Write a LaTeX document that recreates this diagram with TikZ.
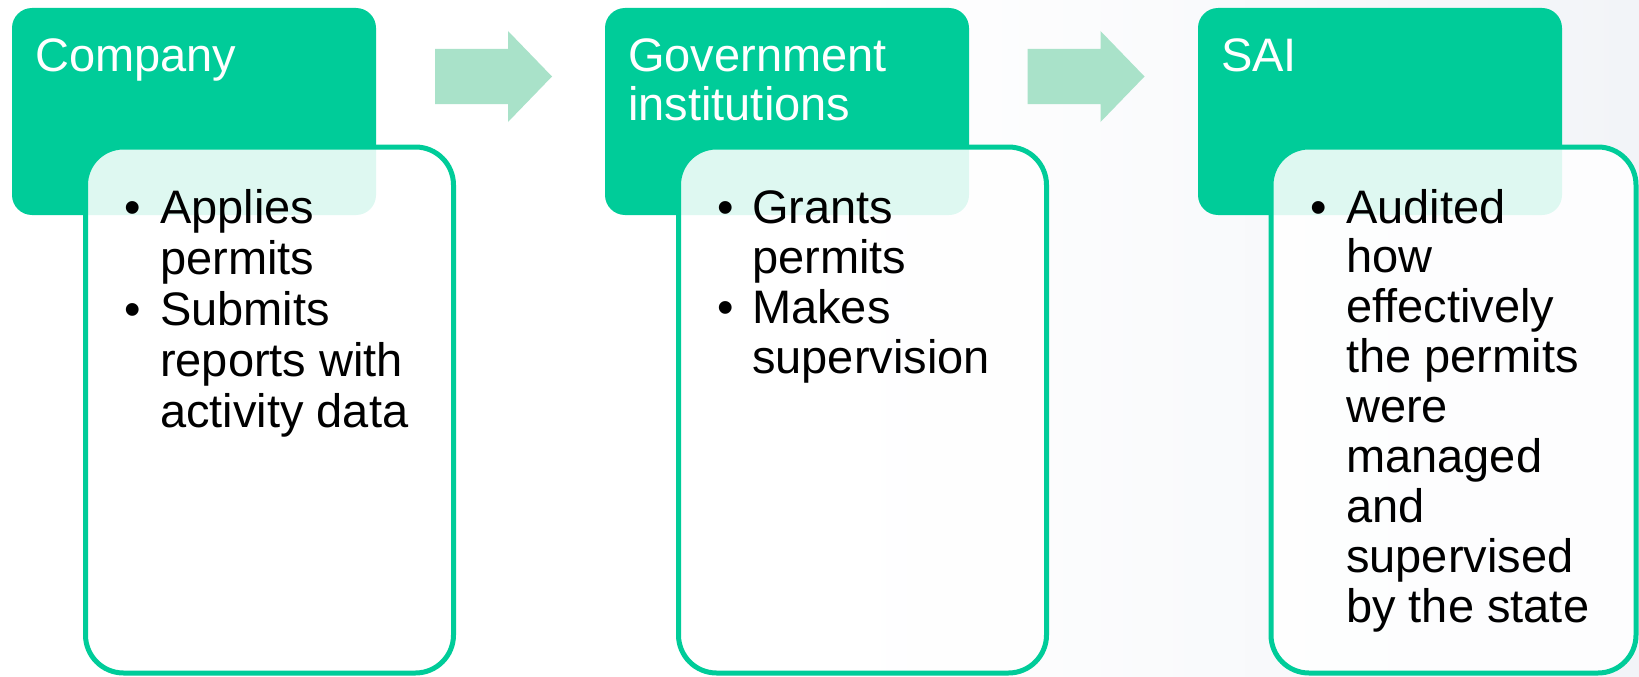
\documentclass[tikz,border=0pt]{standalone}
\usepackage{fontspec}
\setmainfont{Liberation Sans}
\definecolor{hgreen}{HTML}{00CC99}
\definecolor{arrowc}{HTML}{A9E2C9}
\definecolor{bgc}{HTML}{F2F4F8}
\newcommand{\linesat}[2]{\vtop{\baselineskip=#1\lineskiplimit=-\maxdimen\lineskip=0pt\halign{##\hfil\cr#2\crcr}}}
\tikzset{
  headbox/.style={fill=hgreen, rounded corners=20pt, inner sep=0pt, outer sep=0pt,
    minimum width=364pt, minimum height=207pt, anchor=north west},
  bodybox/.style={draw=hgreen, line width=5pt, fill=white, fill opacity=0.87,
    rounded corners=38pt, inner sep=0pt, outer sep=0pt,
    minimum height=526pt, anchor=north west},
  headtxt/.style={text=white, font=\fontsize{47}{49}\selectfont, inner sep=0pt, anchor=base west},
  bodytxt/.style={text=black, font=\fontsize{47}{50}\selectfont, inner sep=0pt, anchor=base west},
  bul/.style={text=black, font=\fontsize{47}{50}\selectfont, inner sep=0pt, anchor=base west},
  blockarrow/.style={fill=arrowc}
}
\begin{document}
\begin{tikzpicture}[x=1pt,y=-1pt]
\useasboundingbox (0,0) rectangle (1639,677);
\clip (0,0) rectangle (1639,677);
\fill[white] (0,0) rectangle (1639,677);
\shade[left color=white, right color=bgc] (850,0) rectangle (1639,677);

% column 1
\node[headbox] (h1) at (12,8) {};
\node[bodybox, minimum width=368pt] (b1) at (85.5,147) {};
\node[headtxt] (h1t) at (35,72) {Company};
\node[bul] (b1p1) at (124.5,223) {•};
\node[bodytxt] (b1t1) at (160,223) {\linesat{51pt}{Applies\cr permits}};
\node[bul] (b1p2) at (124.5,325.5) {•};
\node[bodytxt] (b1t2) at (160,325.5) {\linesat{51pt}{Submits\cr reports with\cr activity data}};

% column 2
\node[headbox] (h2) at (605,8) {};
\node[bodybox, minimum width=368pt] (b2) at (678.5,147) {};
\node[headtxt] (h2t) at (628,72) {\linesat{49pt}{Government\cr institutions}};
\node[bul] (b2p1) at (717.5,223) {•};
\node[bodytxt] (b2t1) at (752,223) {\linesat{50pt}{Grants\cr permits}};
\node[bul] (b2p2) at (717.5,323) {•};
\node[bodytxt] (b2t2) at (752,323) {\linesat{50pt}{Makes\cr supervision}};

% column 3
\node[headbox] (h3) at (1198,8) {};
\node[bodybox, minimum width=365pt] (b3) at (1271,147) {};
\node[headtxt] (h3t) at (1221,72) {SAI};
\node[bul] (b3p1) at (1310.5,223) {•};
\node[bodytxt] (b3t1) at (1346,223) {\linesat{49.9pt}{Audited\cr how\cr effectively\cr the permits\cr were\cr managed\cr and\cr supervised\cr by the state}};

% block arrows
\fill[blockarrow] (435,49) -- (508,49) -- (508,31) -- (552,76.5) -- (508,122) -- (508,104) -- (435,104) -- cycle;
\fill[blockarrow] (1027.5,49) -- (1100.5,49) -- (1100.5,31) -- (1144.5,76.5) -- (1100.5,122) -- (1100.5,104) -- (1027.5,104) -- cycle;
\end{tikzpicture}
\end{document}
